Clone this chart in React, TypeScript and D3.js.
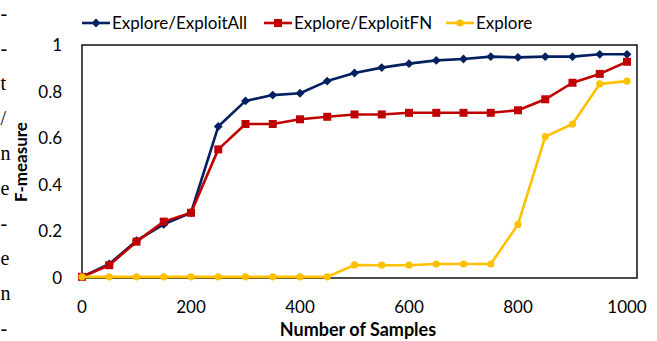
import React from 'react';
import * as d3 from 'd3';

const samples = [0, 50, 100, 150, 200, 250, 300, 350, 400, 450, 500, 550, 600, 650, 700, 750, 800, 850, 900, 950, 1000];
const exploitAll = [0.005, 0.06, 0.16, 0.23, 0.28, 0.65, 0.76, 0.785, 0.793, 0.845, 0.88, 0.903, 0.92, 0.934, 0.94, 0.95, 0.947, 0.95, 0.95, 0.96, 0.96];
const exploitFN = [0.005, 0.055, 0.156, 0.242, 0.28, 0.552, 0.661, 0.661, 0.681, 0.692, 0.702, 0.702, 0.709, 0.709, 0.709, 0.709, 0.72, 0.767, 0.838, 0.876, 0.928];
const exploreOnly = [0.005, 0.005, 0.005, 0.005, 0.005, 0.005, 0.005, 0.005, 0.005, 0.005, 0.056, 0.055, 0.055, 0.06, 0.06, 0.06, 0.23, 0.607, 0.661, 0.833, 0.845];
const xTicks = [0, 200, 400, 600, 800, 1000];
const yTicks = [0, 0.2, 0.4, 0.6, 0.8, 1];
const sideText = ['-', '-', 't', '/', 'n', 'e', '-', 'e', 'n', '-'];

const series = [
  { name: 'Explore/ExploitAll', values: exploitAll, color: '#002060', marker: 'diamond' },
  { name: 'Explore/ExploitFN', values: exploitFN, color: '#C00000', marker: 'square' },
  { name: 'Explore', values: exploreOnly, color: '#FFC000', marker: 'circle' },
];

const W = 657;
const H = 341;
const font = 'Lato, "Open Sans", sans-serif';

const x = d3.scaleLinear().domain([0, 1000]).range([82, 627]);
const y = d3.scaleLinear().domain([0, 1]).range([278, 45]);

const Marker = ({ kind, cx, cy, color }: { kind: string; cx: number; cy: number; color: string }) => {
  if (kind === 'square') return <rect x={cx - 4} y={cy - 4} width={8} height={8} fill={color} />;
  if (kind === 'circle') return <circle cx={cx} cy={cy} r={3.6} fill={color} />;
  const sym = d3.symbol(d3.symbolDiamond2, 50)();
  return <path d={sym || ''} transform={`translate(${cx},${cy})`} fill={color} />;
};

export default function App() {
  const line = d3.line<number>().x((_, i) => x(samples[i])).y(d => y(d));
  const legendX = [82, 264, 446];

  return (
    <svg width={W} height={H} style={{ position: 'absolute', left: 0, top: 0, background: '#fff' }}>
      {/* bits of the page text beside the figure */}
      {sideText.map((t, i) => (
        <text key={i} x={0.5} y={20 + i * 35} fontFamily='"Liberation Serif", serif' fontSize={20}>{t}</text>
      ))}

      {/* plot frame */}
      <rect x={82} y={45} width={555} height={233} fill="none" stroke="#000" strokeWidth={1.4} />

      {yTicks.map(t => (
        <text key={t} x={62} y={y(t) + 6} textAnchor="end" fontFamily={font} fontSize={17}>{t}</text>
      ))}
      {xTicks.map(t => (
        <text key={t} x={x(t)} y={313} textAnchor="middle" fontFamily={font} fontSize={17}>{t}</text>
      ))}

      <text x={358} y={336} textAnchor="middle" fontFamily={font} fontSize={18} fontWeight="bold">Number of Samples</text>
      <text transform="translate(27,162) rotate(-90)" textAnchor="middle" fontFamily={font} fontSize={17} fontWeight="bold">F-measure</text>

      {series.map(s => (
        <g key={s.name}>
          <path d={line(s.values) || ''} fill="none" stroke={s.color} strokeWidth={2.6} strokeLinejoin="round" />
          {s.values.map((v, i) => (
            <Marker key={i} kind={s.marker} cx={x(samples[i])} cy={y(v)} color={s.color} />
          ))}
        </g>
      ))}

      {series.map((s, i) => (
        <g key={s.name} transform={`translate(${legendX[i]},23)`}>
          <line x1={0} x2={28} y1={0} y2={0} stroke={s.color} strokeWidth={2.6} />
          <Marker kind={s.marker} cx={14} cy={0} color={s.color} />
          <text x={30} y={6} fontFamily={font} fontSize={17}>{s.name}</text>
        </g>
      ))}
    </svg>
  );
}
